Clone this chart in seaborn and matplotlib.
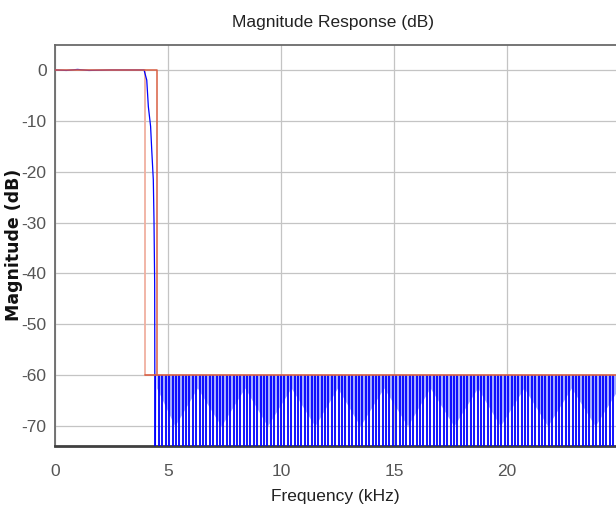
import numpy as np
import pandas as pd
import matplotlib
matplotlib.use("Agg")
import matplotlib.pyplot as plt
import seaborn as sns

# passband + transition of the response (kHz, dB)
resp_khz = [0.0, 0.5, 1.0, 1.5, 2.5, 3.5, 3.94, 4.06, 4.13, 4.23, 4.28, 4.35, 4.38, 4.41, 4.43, 4.45]
resp_db = [0.0, -0.1, 0.1, -0.1, 0.0, 0.0, 0.0, -2.0, -7.2, -11.1, -15.7, -21.6, -29.5, -41.9, -95.0, -60.0]

# stopband nulls (dark lines, go below the axis)
null_khz = [4.60, 4.75, 4.90, 5.05, 5.20, 5.35, 5.50, 5.65, 5.80, 5.95,
            6.10, 6.25, 6.40, 6.55, 6.70, 6.85, 7.00, 7.15, 7.30, 7.45,
            7.60, 7.75, 7.90, 8.05, 8.20, 8.35, 8.50, 8.65, 8.80, 8.95,
            9.10, 9.25, 9.40, 9.55, 9.70, 9.85, 10.00, 10.15, 10.30, 10.45,
            10.60, 10.75, 10.90, 11.05, 11.20, 11.35, 11.50, 11.65, 11.80, 11.95,
            12.10, 12.25, 12.40, 12.55, 12.70, 12.85, 13.00, 13.15, 13.30, 13.45,
            13.60, 13.75, 13.90, 14.05, 14.20, 14.35, 14.50, 14.65, 14.80, 14.95,
            15.10, 15.25, 15.40, 15.55, 15.70, 15.85, 16.00, 16.15, 16.30, 16.45,
            16.60, 16.75, 16.90, 17.05, 17.20, 17.35, 17.50, 17.65, 17.80, 17.95,
            18.10, 18.25, 18.40, 18.55, 18.70, 18.85, 19.00, 19.15, 19.30, 19.45,
            19.60, 19.75, 19.90, 20.05, 20.20, 20.35, 20.50, 20.65, 20.80, 20.95,
            21.10, 21.25, 21.40, 21.55, 21.70, 21.85, 22.00, 22.15, 22.30, 22.45,
            22.60, 22.75, 22.90, 23.05, 23.20, 23.35, 23.50, 23.65, 23.80, 23.95,
            24.10, 24.25, 24.40, 24.55, 24.70, 24.85]
stop_peak_db = -60.0
null_floor_db = -95.0

# lower edge of the light (aliased) ripple band
arch_khz = [4.50, 5.30, 6.30, 7.35, 8.40, 9.40, 10.45, 11.50, 12.50, 13.50, 14.55,
            15.60, 16.60, 17.65, 18.70, 19.70, 20.75, 21.80, 22.85, 23.90, 24.95]
arch_db = [-62.5, -70.0, -62.5, -70.0, -62.5, -70.0, -62.5, -70.0, -62.5, -70.0, -62.5,
           -70.0, -62.5, -70.0, -62.5, -70.0, -62.5, -70.0, -62.5, -70.0, -62.5]

# specification mask
mask_khz = [0.0, 4.5, 4.5]
mask_db = [0.0, 0.0, -60.0]
stopmask_khz = [4.0, 25.0]
stopmask_db = [-60.0, -60.0]
edge_khz = [4.0, 4.0]
edge_db = [0.0, -60.0]

xticks = [0, 5, 10, 15, 20]
yticks = [0, -10, -20, -30, -40, -50, -60, -70]

sns.set_style("white")
plt.rcParams['font.family'] = ['Liberation Sans', 'DejaVu Sans']

fig = plt.figure(figsize=(6.16, 5.07), dpi=100)
ax = fig.add_axes([55 / 616, 61 / 507, 565 / 616, 401 / 507])

blue = "#0000ff"
ax.fill_between(arch_khz, arch_db, stop_peak_db, color="#a3abff", lw=0, zorder=2)
ax.vlines(null_khz, null_floor_db, stop_peak_db, color=blue, lw=1.3, zorder=3)

resp = pd.DataFrame({"f": resp_khz, "db": resp_db})
sns.lineplot(data=resp, x="f", y="db", sort=False, color=blue, lw=0.9, ax=ax, zorder=4)

red = "#d95f43"
ax.plot(edge_khz, edge_db, color="#f0b0a0", lw=1.3, zorder=3)
ax.plot(stopmask_khz, stopmask_db, color=red, lw=1.2, zorder=5)
ax.plot(mask_khz, mask_db, color=red, lw=1.1, zorder=5)

ax.set_xlim(0, 25)
ax.set_ylim(-73.9, 4.9)
ax.set_xticks(xticks)
ax.set_yticks(yticks)
ax.set_xticklabels([str(t) for t in xticks])
ax.set_yticklabels([str(t) for t in yticks])
ax.grid(True, color="#c4c4c4", lw=0.9)
ax.set_axisbelow(True)
ax.tick_params(length=0, labelsize=12.5, colors="#555555", pad=6)
ax.tick_params(axis="x", pad=13)
ax.set_xlabel("")
ax.set_ylabel("")
for side in ["top", "left"]:
    ax.spines[side].set_color("#6a6a6a")
    ax.spines[side].set_linewidth(1.3)
ax.spines["bottom"].set_color("#404040")
ax.spines["bottom"].set_linewidth(2)
ax.spines["right"].set_visible(False)

fig.text(333 / 616, 1 - 22 / 507, "Magnitude Response (dB)", ha="center", va="center",
         fontsize=12.5, color="#222222")
fig.text(14 / 616, 1 - 245 / 507, "Magnitude (dB)", rotation=90, ha="center", va="center",
         fontsize=12.5, fontweight="bold", family=["DejaVu Sans"], color="#111111")
fig.text(335 / 616, 1 - 504 / 507, "Frequency (kHz)", ha="center", va="bottom",
         fontsize=12.5, color="#222222")

fig.savefig("out.png", dpi=100)
